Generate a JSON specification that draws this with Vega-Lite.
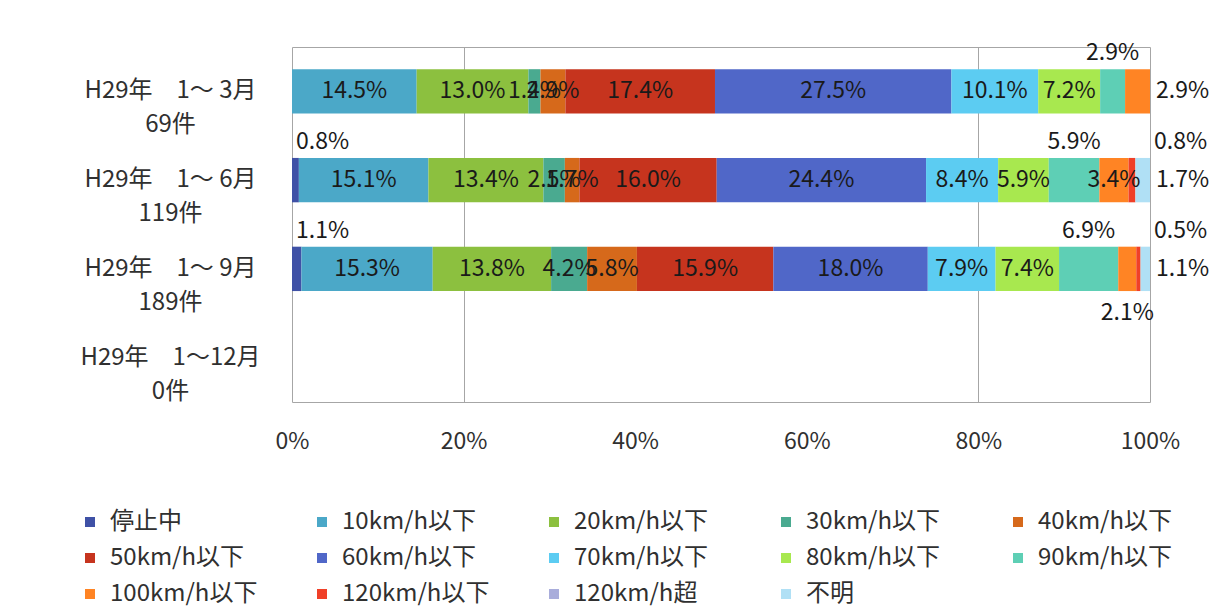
{
  "$schema": "https://vega.github.io/schema/vega-lite/v6.json",
  "autosize": "none",
  "width": 858,
  "height": 355,
  "padding": {"left": 292, "top": 47, "right": 66, "bottom": 207},
  "background": "white",
  "config": {
    "font": "Noto Sans CJK JP",
    "view": {"stroke": "#A6A6A6", "strokeWidth": 1},
    "text": {"font": "Noto Sans CJK JP", "fontSize": 23, "color": "#1a1a1a", "baseline": "middle"}
  },
  "data": {
    "values": [
      {"p": "H29年　1～ 3月\n69件", "cat": "10km/h以下", "k": 2, "v": 0.145},
      {"p": "H29年　1～ 3月\n69件", "cat": "20km/h以下", "k": 3, "v": 0.130},
      {"p": "H29年　1～ 3月\n69件", "cat": "30km/h以下", "k": 4, "v": 0.014},
      {"p": "H29年　1～ 3月\n69件", "cat": "40km/h以下", "k": 5, "v": 0.029},
      {"p": "H29年　1～ 3月\n69件", "cat": "50km/h以下", "k": 6, "v": 0.174},
      {"p": "H29年　1～ 3月\n69件", "cat": "60km/h以下", "k": 7, "v": 0.275},
      {"p": "H29年　1～ 3月\n69件", "cat": "70km/h以下", "k": 8, "v": 0.101},
      {"p": "H29年　1～ 3月\n69件", "cat": "80km/h以下", "k": 9, "v": 0.072},
      {"p": "H29年　1～ 3月\n69件", "cat": "90km/h以下", "k": 10, "v": 0.029},
      {"p": "H29年　1～ 3月\n69件", "cat": "100km/h以下", "k": 11, "v": 0.029},
      {"p": "H29年　1～ 6月\n119件", "cat": "停止中", "k": 1, "v": 0.008},
      {"p": "H29年　1～ 6月\n119件", "cat": "10km/h以下", "k": 2, "v": 0.151},
      {"p": "H29年　1～ 6月\n119件", "cat": "20km/h以下", "k": 3, "v": 0.134},
      {"p": "H29年　1～ 6月\n119件", "cat": "30km/h以下", "k": 4, "v": 0.025},
      {"p": "H29年　1～ 6月\n119件", "cat": "40km/h以下", "k": 5, "v": 0.017},
      {"p": "H29年　1～ 6月\n119件", "cat": "50km/h以下", "k": 6, "v": 0.160},
      {"p": "H29年　1～ 6月\n119件", "cat": "60km/h以下", "k": 7, "v": 0.244},
      {"p": "H29年　1～ 6月\n119件", "cat": "70km/h以下", "k": 8, "v": 0.084},
      {"p": "H29年　1～ 6月\n119件", "cat": "80km/h以下", "k": 9, "v": 0.059},
      {"p": "H29年　1～ 6月\n119件", "cat": "90km/h以下", "k": 10, "v": 0.059},
      {"p": "H29年　1～ 6月\n119件", "cat": "100km/h以下", "k": 11, "v": 0.034},
      {"p": "H29年　1～ 6月\n119件", "cat": "120km/h以下", "k": 12, "v": 0.008},
      {"p": "H29年　1～ 6月\n119件", "cat": "不明", "k": 14, "v": 0.017},
      {"p": "H29年　1～ 9月\n189件", "cat": "停止中", "k": 1, "v": 0.011},
      {"p": "H29年　1～ 9月\n189件", "cat": "10km/h以下", "k": 2, "v": 0.153},
      {"p": "H29年　1～ 9月\n189件", "cat": "20km/h以下", "k": 3, "v": 0.138},
      {"p": "H29年　1～ 9月\n189件", "cat": "30km/h以下", "k": 4, "v": 0.042},
      {"p": "H29年　1～ 9月\n189件", "cat": "40km/h以下", "k": 5, "v": 0.058},
      {"p": "H29年　1～ 9月\n189件", "cat": "50km/h以下", "k": 6, "v": 0.159},
      {"p": "H29年　1～ 9月\n189件", "cat": "60km/h以下", "k": 7, "v": 0.180},
      {"p": "H29年　1～ 9月\n189件", "cat": "70km/h以下", "k": 8, "v": 0.079},
      {"p": "H29年　1～ 9月\n189件", "cat": "80km/h以下", "k": 9, "v": 0.074},
      {"p": "H29年　1～ 9月\n189件", "cat": "90km/h以下", "k": 10, "v": 0.069},
      {"p": "H29年　1～ 9月\n189件", "cat": "100km/h以下", "k": 11, "v": 0.021},
      {"p": "H29年　1～ 9月\n189件", "cat": "120km/h以下", "k": 12, "v": 0.005},
      {"p": "H29年　1～ 9月\n189件", "cat": "不明", "k": 14, "v": 0.011}
    ]
  },
  "encoding": {
    "y": {
      "field": "p",
      "type": "nominal",
      "scale": {
        "domain": ["H29年　1～ 3月\n69件", "H29年　1～ 6月\n119件", "H29年　1～ 9月\n189件", "H29年　1～12月\n0件"],
        "paddingInner": 0.5,
        "paddingOuter": 0.25
      },
      "axis": {
        "title": null,
        "domain": false,
        "ticks": false,
        "labelExpr": "split(datum.value, '\\n')",
        "labelAlign": "center",
        "labelBaseline": "middle",
        "labelPadding": 122,
        "labelFontSize": 24,
        "labelLineHeight": 34,
        "labelColor": "#303030",
        "labelFont": "Noto Sans CJK JP",
        "labelLimit": 300
      }
    }
  },
  "layer": [
    {
      "mark": {"type": "bar"},
      "encoding": {
        "x": {
          "field": "v",
          "type": "quantitative",
          "stack": "normalize",
          "scale": {"domain": [0, 1]},
          "axis": {
            "title": null,
            "format": ".0%",
            "values": [0, 0.2, 0.4, 0.6, 0.8, 1],
            "grid": true,
            "gridColor": "#A6A6A6",
            "gridOpacity": {"condition": {"test": "datum.value == 0.2 || datum.value == 0.8", "value": 1}, "value": 0},
            "domain": false,
            "ticks": false,
            "labelFlush": false,
            "labelFontSize": 23,
            "labelPadding": 28,
            "labelColor": "#303030",
            "labelFont": "Noto Sans CJK JP"
          }
        },
        "color": {
          "field": "cat",
          "type": "nominal",
          "scale": {
            "domain": ["停止中", "10km/h以下", "20km/h以下", "30km/h以下", "40km/h以下", "50km/h以下", "60km/h以下", "70km/h以下", "80km/h以下", "90km/h以下", "100km/h以下", "120km/h以下", "120km/h超", "不明"],
            "range": ["#3F51A6", "#4BA8C8", "#8CC03F", "#4AAA90", "#D6691B", "#C6341E", "#5067C8", "#5CCCF2", "#A8E84F", "#5ECFB5", "#FF8424", "#F04028", "#A9ADDB", "#B0E0F5"]
          },
          "legend": {
            "title": null,
            "orient": "none",
            "legendX": -214,
            "legendY": 463,
            "direction": "horizontal",
            "columns": 5,
            "gridAlign": "all",
            "columnPadding": 52,
            "rowPadding": 12,
            "padding": 0,
            "symbolType": "square",
            "symbolSize": 100,
            "symbolStrokeWidth": 0,
            "labelOffset": 8,
            "labelFontSize": 24,
            "labelFont": "Noto Sans CJK JP",
            "labelColor": "#303030",
            "labelLimit": 300
          }
        },
        "order": {"field": "k", "type": "quantitative"}
      }
    },
    {
      "mark": {"type": "text", "align": "center"},
      "encoding": {
        "x": {"field": "v", "type": "quantitative", "stack": "normalize", "bandPosition": 0.5},
        "detail": {"field": "cat", "type": "nominal"},
        "order": {"field": "k", "type": "quantitative"},
        "text": {
          "condition": {
            "test": "datum.cat != '90km/h以下' && datum.cat != '停止中' && datum.cat != '120km/h以下' && datum.cat != '不明' && !(datum.cat == '100km/h以下' && indexof(datum.p, '6月') < 0)",
            "field": "v", "type": "quantitative", "format": ".1%"
          },
          "value": ""
        }
      }
    },
    {
      "mark": {"type": "text", "align": "center", "dy": -38},
      "encoding": {
        "x": {"field": "v", "type": "quantitative", "stack": "normalize", "bandPosition": 0.5},
        "detail": {"field": "cat", "type": "nominal"},
        "order": {"field": "k", "type": "quantitative"},
        "text": {
          "condition": {"test": "datum.cat == '90km/h以下'", "field": "v", "type": "quantitative", "format": ".1%"},
          "value": ""
        }
      }
    },
    {
      "mark": {"type": "text", "align": "left", "dx": 4, "dy": -38},
      "encoding": {
        "x": {"field": "v", "type": "quantitative", "stack": "normalize", "bandPosition": 0},
        "detail": {"field": "cat", "type": "nominal"},
        "order": {"field": "k", "type": "quantitative"},
        "text": {
          "condition": {"test": "datum.cat == '停止中'", "field": "v", "type": "quantitative", "format": ".1%"},
          "value": ""
        }
      }
    },
    {
      "mark": {"type": "text", "align": "center", "dy": 44},
      "encoding": {
        "x": {"field": "v", "type": "quantitative", "stack": "normalize", "bandPosition": 0.5},
        "detail": {"field": "cat", "type": "nominal"},
        "order": {"field": "k", "type": "quantitative"},
        "text": {
          "condition": {"test": "datum.cat == '100km/h以下' && indexof(datum.p, '9月') >= 0", "field": "v", "type": "quantitative", "format": ".1%"},
          "value": ""
        }
      }
    },
    {
      "transform": [{"filter": "datum.cat == '不明' || (datum.cat == '100km/h以下' && indexof(datum.p, '3月') >= 0)"}],
      "mark": {"type": "text", "align": "left", "dx": 6},
      "encoding": {
        "x": {"datum": 1, "type": "quantitative"},
        "text": {"field": "v", "type": "quantitative", "format": ".1%"}
      }
    },
    {
      "transform": [{"filter": "datum.cat == '120km/h以下'"}],
      "mark": {"type": "text", "align": "left", "dx": 4, "dy": -38},
      "encoding": {
        "x": {"datum": 1, "type": "quantitative"},
        "text": {"field": "v", "type": "quantitative", "format": ".1%"}
      }
    }
  ]
}
